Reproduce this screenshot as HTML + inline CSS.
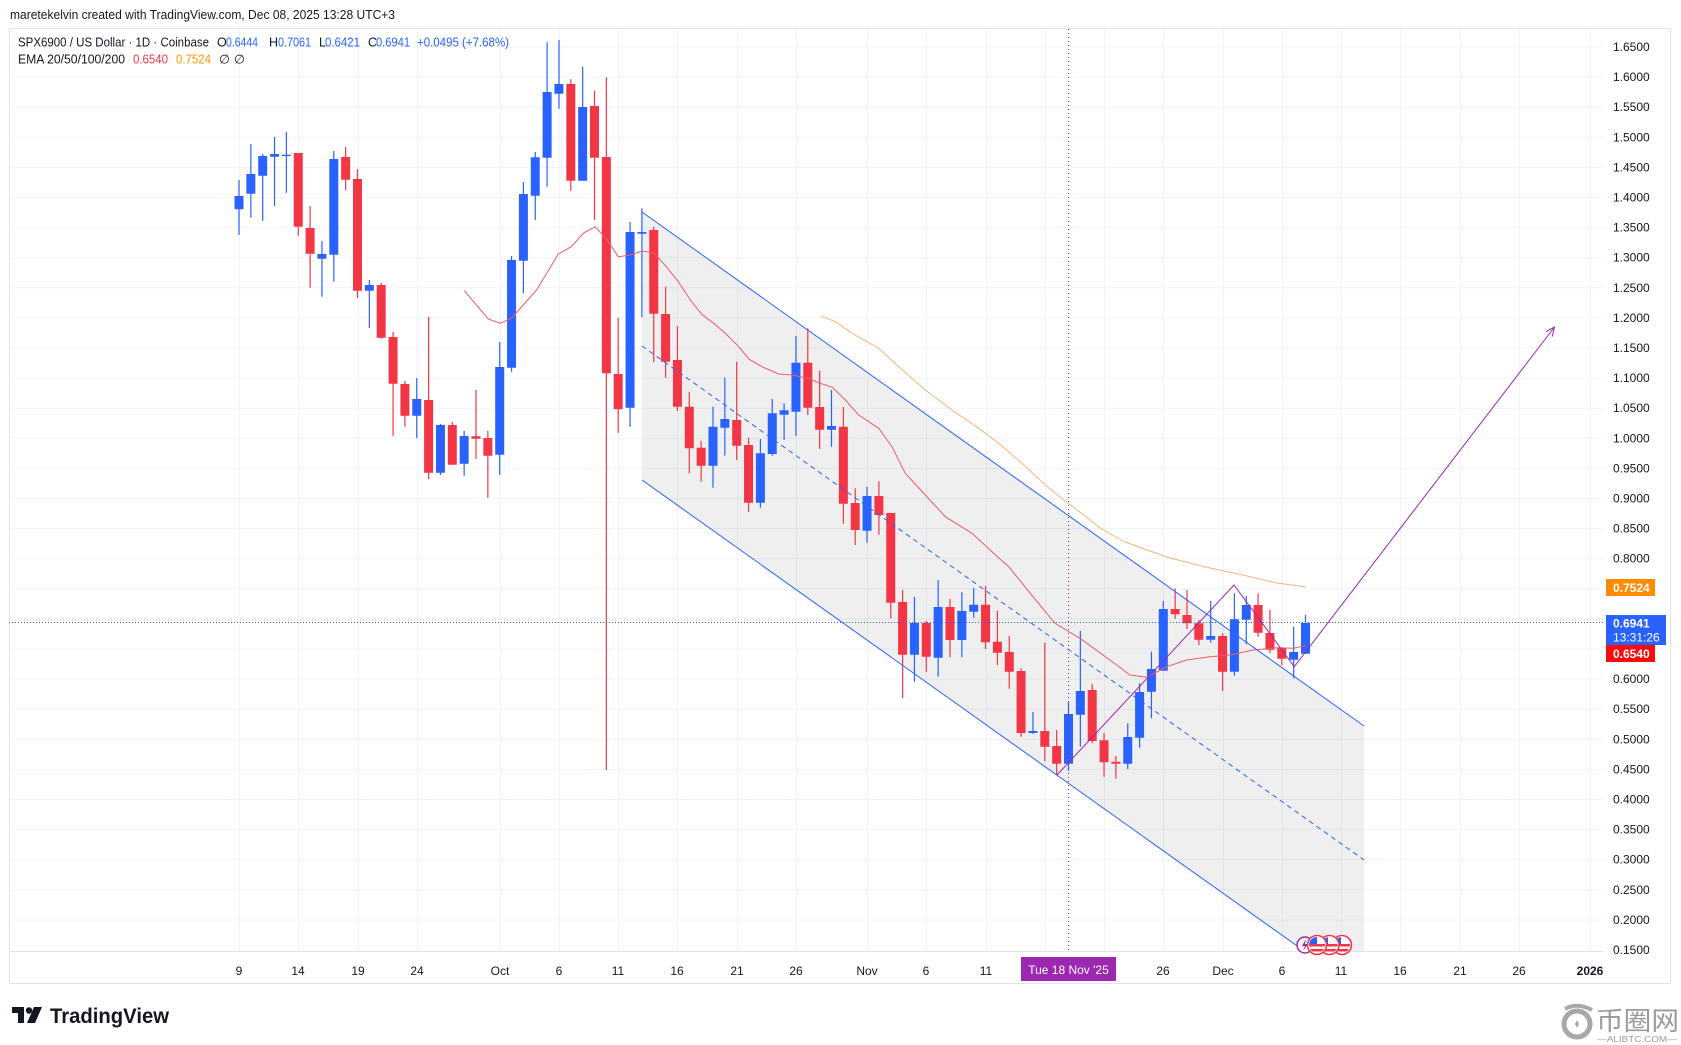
<!DOCTYPE html>
<html><head><meta charset="utf-8"><style>
html,body{margin:0;padding:0;background:#fff;overflow:hidden;}
svg{display:block;}
text{font-family:"Liberation Sans",sans-serif;}
</style></head><body>
<svg width="1681" height="1045" viewBox="0 0 1681 1045" xmlns="http://www.w3.org/2000/svg">
<rect x="0" y="0" width="1681" height="1045" fill="#fff"/>
<!-- header -->
<text x="10" y="19" font-size="13" fill="#131722" textLength="385" lengthAdjust="spacingAndGlyphs">maretekelvin created with TradingView.com, Dec 08, 2025 13:28 UTC+3</text>
<!-- frame -->
<rect x="9.5" y="28.5" width="1661" height="955" fill="none" stroke="#e0e3eb"/>
<!-- grid -->
<g stroke="#f0f3fa" stroke-width="1">
<path d="M9 47H1603M9 77.1H1603M9 107.2H1603M9 137.3H1603M9 167.4H1603M9 197.5H1603M9 227.6H1603M9 257.7H1603M9 287.8H1603M9 317.9H1603M9 348H1603M9 378.1H1603M9 408.2H1603M9 438.3H1603M9 468.4H1603M9 498.5H1603M9 528.6H1603M9 558.7H1603M9 588.8H1603M9 618.9H1603M9 649H1603M9 679.1H1603M9 709.2H1603M9 739.3H1603M9 769.4H1603M9 799.5H1603M9 829.6H1603M9 859.7H1603M9 889.8H1603M9 919.9H1603"/>
<path d="M239.5 29V951M298.5 29V951M358.5 29V951M417.5 29V951M500.5 29V951M559.5 29V951M618.5 29V951M677.5 29V951M737.5 29V951M796.5 29V951M867.5 29V951M926.5 29V951M986.5 29V951M1045.5 29V951M1104.5 29V951M1163.5 29V951M1223.5 29V951M1282.5 29V951M1341.5 29V951M1400.5 29V951M1460.5 29V951M1519.5 29V951M1590.5 29V951"/>
</g>
<line x1="9" y1="951.5" x2="1603" y2="951.5" stroke="#e0e3eb"/>
<!-- channel fill -->
<polygon points="642,212 1364,726 1364,951 1304.2,951 642,480" fill="#787b86" fill-opacity="0.12"/>
<!-- candles -->
<g fill="#2962ff">
<path d="M234.5 196h9V209.3h-9zM246.35 174h9V193.7h-9zM258.2 156h9V175.7h-9zM270.05 154h9V156.7h-9zM281.9 154.7h9V156h-9zM317.45 254h9V258.7h-9zM329.3 159h9V254.7h-9zM364.85 285h9V290.7h-9zM412.25 399h9V415.7h-9zM435.95 425h9V472.7h-9zM459.65 436h9V463.7h-9zM495.2 367h9V454.7h-9zM507.05 260h9V367.7h-9zM518.9 194h9V260.7h-9zM530.75 157.3h9V195.7h-9zM542.6 92h9V157.7h-9zM554.45 84h9V93.7h-9zM578.15 107h9V180.7h-9zM625.55 232h9V407.7h-9zM637.4 232h9V233.8h-9zM708.5 426.7h9V465.7h-9zM720.35 419h9V427.7h-9zM755.9 453.3h9V502.7h-9zM767.75 413.3h9V454h-9zM779.6 410.3h9V414.7h-9zM791.45 362.7h9V411.7h-9zM827 426h9V429.7h-9zM862.55 496h9V530.7h-9zM909.95 623h9V654.7h-9zM933.65 607h9V657.7h-9zM957.35 611h9V640h-9zM969.2 604.7h9V611.7h-9zM1028.45 731h9V733h-9zM1064 714h9V763.7h-9zM1075.85 691h9V714.7h-9zM1123.25 737h9V763.7h-9zM1135.1 692h9V737.7h-9zM1146.95 669h9V691.7h-9zM1158.8 609h9V670.7h-9zM1206.2 636h9V639.7h-9zM1229.9 619.3h9V671.7h-9zM1241.75 605h9V619.7h-9zM1289.15 652h9V659.7h-9zM1301 623h9V653.7h-9z"/>
</g>
<path stroke="#2962ff" stroke-width="1.2" fill="none" d="M239 180V235M250.85 144V217.7M262.7 154V220.7M274.55 137V206M286.4 132V192.7M321.95 241V296.7M333.8 151V281.7M369.35 280V328M416.75 378V438.3M440.45 424V475M464.15 431V475.7M499.7 342V475M511.55 256V371.7M523.4 182V293.3M535.25 152V220M547.1 42.3V186.7M558.95 40V108.7M582.65 66.7V180.7M630.05 222V426.7M641.9 208.3V317.3M713 406.7V487.7M724.85 377.7V455.7M760.4 439V507.7M772.25 399V455.7M784.1 403.3V440M795.95 336V436M831.5 390V446.7M867.05 486.7V542.7M914.45 596.7V681.7M938.15 580V676.7M961.85 592.3V657.3M973.7 587.7V617.7M1032.95 712V734M1068.5 702.3V770.7M1080.35 630.7V746.7M1127.75 723.3V769M1139.6 683.3V747.7M1151.45 651.7V718.3M1163.3 601V670.7M1210.7 601V642.7M1234.4 593.3V675.7M1246.25 596V644.3M1293.65 626.7V678.3M1305.5 615V653.7"/>
<g fill="#f23645">
<path d="M293.75 153h9V226.7h-9zM305.6 228h9V253.7h-9zM341.15 157h9V179.7h-9zM353 179h9V290.7h-9zM376.7 285h9V337.7h-9zM388.55 337h9V383.7h-9zM400.4 384h9V415.7h-9zM424.1 400h9V472.7h-9zM447.8 425h9V464.7h-9zM471.5 436.3h9V438.7h-9zM483.35 438h9V455.7h-9zM566.3 84h9V180.7h-9zM590 106h9V157.7h-9zM601.85 157h9V373.3h-9zM613.7 374h9V409.3h-9zM649.25 230h9V313.7h-9zM661.1 314h9V361.7h-9zM672.95 360h9V406.7h-9zM684.8 406.7h9V448.3h-9zM696.65 447.7h9V465.7h-9zM732.2 420h9V445.7h-9zM744.05 445h9V502.7h-9zM803.3 362.7h9V407.7h-9zM815.15 407h9V429.7h-9zM838.85 426.7h9V503.7h-9zM850.7 503h9V530h-9zM874.4 496h9V515h-9zM886.25 513h9V602.7h-9zM898.1 602h9V654.7h-9zM921.8 623h9V656.7h-9zM945.5 607h9V640h-9zM981.05 604.7h9V642.3h-9zM992.9 641.7h9V652.7h-9zM1004.75 652h9V671.7h-9zM1016.6 671h9V733h-9zM1040.3 731h9V746.7h-9zM1052.15 746h9V763.7h-9zM1087.7 690h9V741h-9zM1099.55 740.3h9V762.3h-9zM1111.4 761.7h9V763.7h-9zM1170.65 609h9V614.3h-9zM1182.5 615h9V623.3h-9zM1194.35 623.3h9V639.7h-9zM1218.05 636h9V671.7h-9zM1253.6 605h9V632.7h-9zM1265.45 633h9V649.7h-9zM1277.3 648h9V658.7h-9z"/>
</g>
<path stroke="#f23645" stroke-width="1.2" fill="none" d="M298.25 153V235.7M310.1 206V287.7M345.65 147V190.3M357.5 169.3V298M381.2 282.7V338.7M393.05 332V435.7M404.9 380.7V426.7M428.6 317V479.3M452.3 421.7V464.7M476 390V459M487.85 430.7V497.7M570.8 79.3V190.7M594.5 90.7V220M606.35 77.3V770M618.2 317.7V432.7M653.75 226.7V362.3M665.6 286.7V377.7M677.45 326V411M689.3 391.7V473.3M701.15 441V481.7M736.7 361.7V460M748.55 437.7V511.7M807.8 328.3V415M819.65 370.7V449M843.35 407V523.7M855.2 488.3V545M878.9 481.3V534.7M890.75 513V618.3M902.6 590V698.3M926.3 620.7V671.7M950 599V657.3M985.55 586V649M997.4 610.7V665M1009.25 636V688.7M1021.1 668.3V736.7M1044.8 642.7V761.3M1056.65 730V775M1092.2 684V743.3M1104.05 733V776.7M1115.9 756V778.7M1175.15 588.3V618.7M1187 590V629M1198.85 620V645M1222.55 633.3V691M1258.1 593.3V636.7M1269.95 610V653.3M1281.8 647.3V665.3"/>
<!-- EMA lines -->
<polyline fill="none" stroke="#f05a66" stroke-width="1" points="464.3,290.7 488.3,319 500.3,323.3 511.7,318 525,303 536.7,290 558.3,254 571.3,246.7 583.3,233.3 595.3,226.7 607.3,240 618.3,256.7 630.3,255 642.3,251 654.3,253.3 666.3,266.7 678.3,281.7 690.3,300 701.7,314.3 713.7,323.3 725.3,333.3 738.7,346.7 749.3,359.3 762,366.7 778.7,374 792,375 808.3,378.3 820.3,383.3 832.3,387.3 845.3,400 858.7,415 878.7,428.3 892,446.7 905.3,473.3 925.3,495 945.3,516.7 972,533.3 992,551.7 1008.7,566.7 1030,593 1055,623.3 1080,638.3 1110,660 1130,675 1146.7,677.3 1166.7,666.7 1186.7,660 1210,656.7 1230,655 1253.3,650 1276.7,647.7 1293.3,648.3 1306,645.5"/>
<polyline fill="none" stroke="#f8b47c" stroke-width="1" points="820.3,315.7 835.3,321.7 852,333.3 878.7,348.3 898.7,366.7 925.3,390 952,410 978.7,428.3 998.7,443.3 1022,463.3 1045.3,485 1060,497 1080,512 1100,528 1125,542 1150,551 1170,558 1210,568 1243,575 1277,583 1306,587"/>
<!-- channel lines -->
<g stroke="#2962ff" stroke-width="1" fill="none">
<line x1="642" y1="212" x2="1364" y2="726"/>
<line x1="642" y1="480" x2="1304.2" y2="951"/>
<line x1="642" y1="346" x2="1364" y2="860" stroke-dasharray="5 4"/>
</g>
<!-- purple drawing -->
<polyline fill="none" stroke="#9c27b0" stroke-width="1" points="1057,775 1234,585 1294.3,666.7 1554.5,327"/>
<polyline fill="none" stroke="#9c27b0" stroke-width="1" points="1545.9,331.7 1554.5,327 1552.2,336.6"/>
<!-- last price line & crosshair -->
<line x1="9" y1="622.5" x2="1603" y2="622.5" stroke="#2962ff" stroke-dasharray="1 2"/>
<line x1="1068.5" y1="29" x2="1068.5" y2="951" stroke="#7b1fa2" stroke-dasharray="1 3"/>
<!-- event icons -->
<defs>
<clipPath id="c1"><circle cx="1317" cy="945" r="8"/></clipPath>
<clipPath id="c2"><circle cx="1329.5" cy="945" r="8"/></clipPath>
<clipPath id="c3"><circle cx="1342" cy="945" r="8"/></clipPath>
</defs>
<circle cx="1305" cy="945" r="8" fill="#fff" stroke="#9c27b0" stroke-width="1.5"/>
<path d="M1306 939l-4 7h3l-2 5 5-7h-3z" fill="#9c27b0"/>
<g>
<circle cx="1342" cy="945" r="9.5" fill="#fff" stroke="#f23645" stroke-width="1.5"/>
<g clip-path="url(#c3)"><rect x="1334" y="944" width="16" height="2.5" fill="#f23645"/><rect x="1334" y="949" width="16" height="2.5" fill="#f23645"/><rect x="1334" y="937" width="7" height="7" fill="#2962ff"/></g>
<circle cx="1329.5" cy="945" r="9.5" fill="#fff" stroke="#f23645" stroke-width="1.5"/>
<g clip-path="url(#c2)"><rect x="1321" y="944" width="17" height="2.5" fill="#f23645"/><rect x="1321" y="949" width="17" height="2.5" fill="#f23645"/><rect x="1321" y="937" width="7" height="7" fill="#2962ff"/></g>
<circle cx="1317" cy="945" r="9.5" fill="#fff" stroke="#f23645" stroke-width="1.5"/>
<g clip-path="url(#c1)"><rect x="1309" y="944" width="17" height="2.5" fill="#f23645"/><rect x="1309" y="949" width="17" height="2.5" fill="#f23645"/><rect x="1309" y="937" width="8" height="7" fill="#2962ff"/></g>
</g>
<!-- legend -->
<g font-size="12.5" fill="#131722">
<text x="18" y="46.5" textLength="191" lengthAdjust="spacingAndGlyphs">SPX6900 / US Dollar · 1D · Coinbase</text>
<text x="217" y="46.5">O</text>
<text x="226" y="46.5" fill="#2962ff" textLength="32" lengthAdjust="spacingAndGlyphs">0.6444</text>
<text x="269" y="46.5">H</text>
<text x="278" y="46.5" fill="#2962ff" textLength="33" lengthAdjust="spacingAndGlyphs">0.7061</text>
<text x="319" y="46.5">L</text>
<text x="325" y="46.5" fill="#2962ff" textLength="35" lengthAdjust="spacingAndGlyphs">0.6421</text>
<text x="368" y="46.5">C</text>
<text x="376" y="46.5" fill="#2962ff" textLength="34" lengthAdjust="spacingAndGlyphs">0.6941</text>
<text x="417" y="46.5" fill="#2962ff" textLength="92" lengthAdjust="spacingAndGlyphs">+0.0495 (+7.68%)</text>
<text x="18" y="63.5" textLength="107" lengthAdjust="spacingAndGlyphs">EMA 20/50/100/200</text>
<text x="133" y="63.5" fill="#f23645" textLength="35" lengthAdjust="spacingAndGlyphs">0.6540</text>
<text x="176" y="63.5" fill="#ff9800" textLength="35" lengthAdjust="spacingAndGlyphs">0.7524</text>
<text x="219" y="63.5">∅</text>
<text x="234" y="63.5">∅</text>
</g>
<!-- price axis labels -->
<g font-size="12" fill="#131722">
<text x="1613" y="51">1.6500</text>
<text x="1613" y="81.1">1.6000</text>
<text x="1613" y="111.2">1.5500</text>
<text x="1613" y="141.3">1.5000</text>
<text x="1613" y="171.4">1.4500</text>
<text x="1613" y="201.5">1.4000</text>
<text x="1613" y="231.6">1.3500</text>
<text x="1613" y="261.7">1.3000</text>
<text x="1613" y="291.8">1.2500</text>
<text x="1613" y="321.9">1.2000</text>
<text x="1613" y="352">1.1500</text>
<text x="1613" y="382.1">1.1000</text>
<text x="1613" y="412.2">1.0500</text>
<text x="1613" y="442.3">1.0000</text>
<text x="1613" y="472.4">0.9500</text>
<text x="1613" y="502.5">0.9000</text>
<text x="1613" y="532.6">0.8500</text>
<text x="1613" y="562.7">0.8000</text>
<text x="1613" y="683.1">0.6000</text>
<text x="1613" y="713.2">0.5500</text>
<text x="1613" y="743.3">0.5000</text>
<text x="1613" y="773.4">0.4500</text>
<text x="1613" y="803.5">0.4000</text>
<text x="1613" y="833.6">0.3500</text>
<text x="1613" y="863.7">0.3000</text>
<text x="1613" y="893.8">0.2500</text>
<text x="1613" y="923.9">0.2000</text>
<text x="1613" y="954">0.1500</text>
</g>
<!-- price boxes -->
<rect x="1606" y="579" width="49" height="17" fill="#ff8c00"/>
<text x="1613" y="592" font-size="12" fill="#fff" font-weight="bold">0.7524</text>
<rect x="1606" y="615" width="60" height="30" fill="#2962ff"/>
<text x="1613" y="627.5" font-size="12" fill="#fff" font-weight="bold">0.6941</text>
<text x="1613" y="641.5" font-size="12" fill="#fff">13:31:26</text>
<rect x="1606" y="645" width="49" height="17" fill="#f70d0d"/>
<text x="1613" y="658" font-size="12" fill="#fff" font-weight="bold">0.6540</text>
<!-- time axis -->
<g font-size="12" fill="#131722" text-anchor="middle">
<text x="239" y="975">9</text>
<text x="298" y="975">14</text>
<text x="358" y="975">19</text>
<text x="417" y="975">24</text>
<text x="500" y="975">Oct</text>
<text x="559" y="975">6</text>
<text x="618" y="975">11</text>
<text x="677" y="975">16</text>
<text x="737" y="975">21</text>
<text x="796" y="975">26</text>
<text x="867" y="975">Nov</text>
<text x="926" y="975">6</text>
<text x="986" y="975">11</text>
<text x="1163" y="975">26</text>
<text x="1223" y="975">Dec</text>
<text x="1282" y="975">6</text>
<text x="1341" y="975">11</text>
<text x="1400" y="975">16</text>
<text x="1460" y="975">21</text>
<text x="1519" y="975">26</text>
<text x="1590" y="975" font-weight="bold">2026</text>
</g>
<rect x="1021" y="957" width="95" height="24" fill="#9c27b0"/>
<text x="1068.5" y="974" font-size="12" fill="#fff" text-anchor="middle">Tue 18 Nov '25</text>
<!-- TradingView logo -->
<g fill="#131722">
<polygon points="12,1007 24,1007 24,1023 18,1023 18,1013 12,1013"/>
<circle cx="29" cy="1010.5" r="3.2"/>
<polygon points="34,1007 42,1007 35,1023 27,1023"/>
<text x="50" y="1023" font-size="21" font-weight="bold" textLength="119" lengthAdjust="spacingAndGlyphs">TradingView</text>
</g>
<!-- watermark -->
<g fill="#9a9a9a">
<circle cx="1577" cy="1024" r="13" fill="none" stroke="#a8a8a8" stroke-width="5"/>
<path d="M1565 1009 q12 -7 27 1" stroke="#a8a8a8" stroke-width="4" fill="none"/>
<path d="M1577 1020l2 4-2 4-2-4z" fill="#a8a8a8"/>
<text x="1596" y="1030" font-size="26" font-family="'Liberation Sans','Noto Sans CJK SC',sans-serif" textLength="83" lengthAdjust="spacingAndGlyphs">币圈网</text>
<text x="1597" y="1042" font-size="8" textLength="80" lengthAdjust="spacingAndGlyphs">—ALIBTC.COM—</text>
</g>
</svg>
</body></html>
